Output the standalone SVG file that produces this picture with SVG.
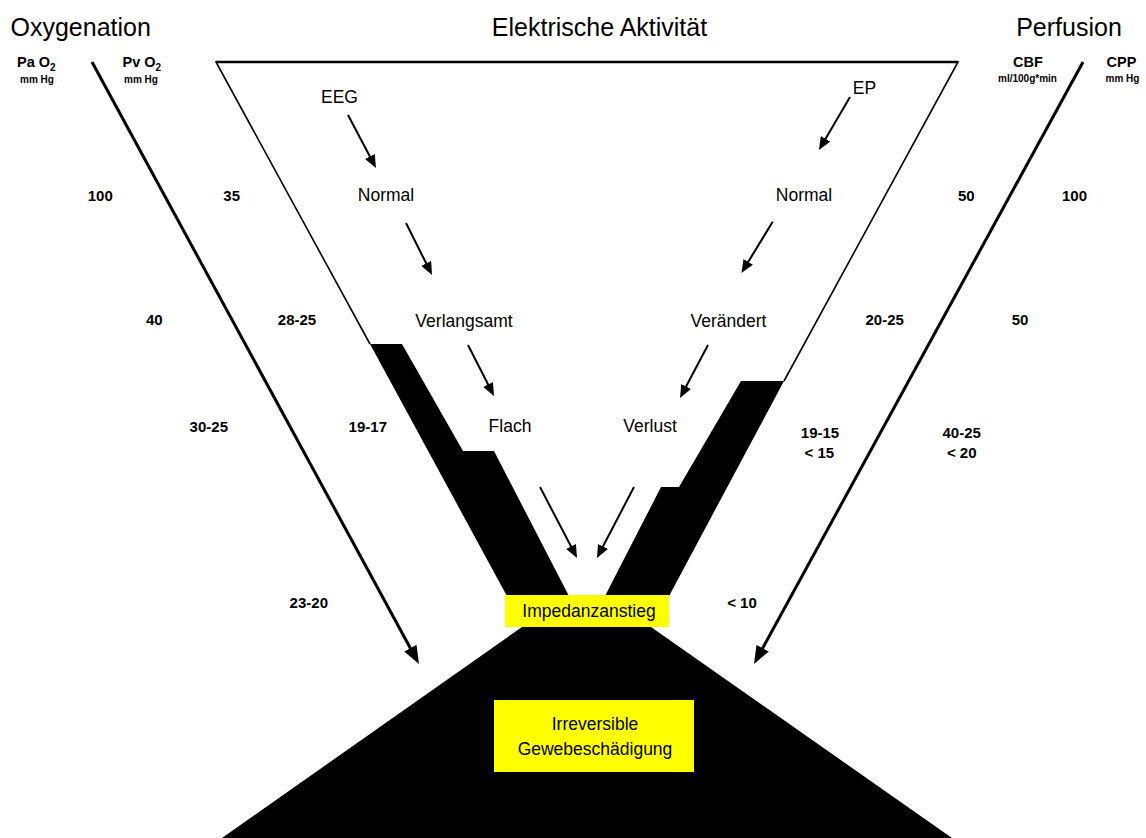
<svg xmlns="http://www.w3.org/2000/svg" width="1146" height="838" viewBox="0 0 1146 838">
<defs>
<style>
text{font-family:"Liberation Sans",Arial,sans-serif;fill:#000}
.title{font-size:25px}
.lbl{font-size:17.5px;text-anchor:middle}
.num{font-size:15px;font-weight:bold;text-anchor:middle}
.hdr{font-size:14.5px;font-weight:bold}
.unit{font-size:10px;font-weight:bold;text-anchor:middle}
.sub{font-size:10px;font-weight:bold}
.box{fill:#ffff00}
.band{fill:#000}
.edge{stroke:#000;fill:none;stroke-width:1.6}
.big{stroke:#000;fill:none;stroke-width:3}
.thin{stroke:#000;fill:none;stroke-width:2}
</style>
<marker id="ahBig" viewBox="0 0 18 14" refX="8" refY="7" markerWidth="18" markerHeight="14" markerUnits="userSpaceOnUse" orient="auto">
<path d="M0,0 L18,7 L0,14 z" fill="#000"/>
</marker>
<marker id="ahSmall" viewBox="0 0 13 11" refX="6" refY="5.5" markerWidth="13" markerHeight="11" markerUnits="userSpaceOnUse" orient="auto">
<path d="M0,0 L13,5.5 L0,11 z" fill="#000"/>
</marker>
</defs>
<rect width="1146" height="838" fill="#fff"/>

<g id="titles">
<text class="title" x="10.5" y="36">Oxygenation</text>
<text class="title" x="599.5" y="36" text-anchor="middle">Elektrische Aktivität</text>
<text class="title" x="1069" y="36" text-anchor="middle">Perfusion</text>
</g>

<g id="headers">
<text class="hdr" x="17" y="67">Pa O<tspan class="sub" dy="4">2</tspan></text>
<text class="unit" x="37" y="83">mm Hg</text>
<text class="hdr" x="122.5" y="67">Pv O<tspan class="sub" dy="4">2</tspan></text>
<text class="unit" x="141" y="83">mm Hg</text>
<text class="hdr" x="1028" y="67" text-anchor="middle">CBF</text>
<text class="unit" x="1027.5" y="82">ml/100g*min</text>
<text class="hdr" x="1121.5" y="67" text-anchor="middle">CPP</text>
<text class="unit" x="1122.5" y="82">mm Hg</text>
</g>

<g id="funnel">
<path class="edge" d="M370,344 L216,62 L958,62 L784,381"/>
<line x1="216" y1="62" x2="958" y2="62" stroke="#000" stroke-width="2.6"/>
<polygon id="band-left" class="band" points="370,344 402,344 463,451 494,451 570,598 508,598"/>
<polygon id="band-right" class="band" points="741,381 784,381 668,598 604,598 661,487 679,487"/>
<polygon id="base" class="band" points="522,627 651,627 952,838 222,838"/>
</g>

<g id="connectors">
<line class="big" x1="92" y1="62" x2="414.2" y2="655.2" marker-end="url(#ahBig)"/>
<line class="big" x1="1083" y1="62" x2="758.8" y2="655.2" marker-end="url(#ahBig)"/>
<line class="thin" x1="348" y1="115" x2="372.7" y2="161.8" marker-end="url(#ahSmall)"/>
<line class="thin" x1="406" y1="223" x2="428.9" y2="268.7" marker-end="url(#ahSmall)"/>
<line class="thin" x1="468" y1="345" x2="490.8" y2="389.8" marker-end="url(#ahSmall)"/>
<line class="thin" x1="540" y1="487" x2="573.8" y2="551.8" marker-end="url(#ahSmall)"/>
<line class="thin" x1="634" y1="487" x2="600.2" y2="551.8" marker-end="url(#ahSmall)"/>
<line class="thin" x1="708" y1="345" x2="683.3" y2="391.8" marker-end="url(#ahSmall)"/>
<line class="thin" x1="772.7" y1="221.7" x2="745.1" y2="267" marker-end="url(#ahSmall)"/>
<line class="thin" x1="850" y1="97" x2="822.5" y2="144" marker-end="url(#ahSmall)"/>
</g>

<g id="eeg"><text class="lbl" x="339.5" y="103">EEG</text></g>
<g id="eeg-normal"><text class="lbl" x="386" y="201">Normal</text></g>
<g id="verlangsamt"><text class="lbl" x="464" y="327">Verlangsamt</text></g>
<g id="flach"><text class="lbl" x="510" y="432">Flach</text></g>
<g id="ep"><text class="lbl" x="864.5" y="94">EP</text></g>
<g id="ep-normal"><text class="lbl" x="804" y="201">Normal</text></g>
<g id="veraendert"><text class="lbl" x="728.5" y="327">Verändert</text></g>
<g id="verlust"><text class="lbl" x="650" y="432">Verlust</text></g>

<g id="impedanz">
<rect class="box" x="505" y="595" width="164" height="32"/>
<text class="lbl" x="589" y="617">Impedanzanstieg</text>
</g>
<g id="irreversibel">
<rect class="box" x="494" y="700" width="200" height="72"/>
<text class="lbl" x="595" y="730">Irreversible</text>
<text class="lbl" x="595" y="755">Gewebeschädigung</text>
</g>

<g id="values">
<text class="num" x="100.3" y="201">100</text>
<text class="num" x="231.7" y="201">35</text>
<text class="num" x="154.3" y="325">40</text>
<text class="num" x="297" y="325">28-25</text>
<text class="num" x="208.8" y="432">30-25</text>
<text class="num" x="367.8" y="432">19-17</text>
<text class="num" x="308.8" y="608">23-20</text>
<text class="num" x="966.3" y="201">50</text>
<text class="num" x="1074.5" y="201">100</text>
<text class="num" x="884.7" y="325">20-25</text>
<text class="num" x="1020" y="325">50</text>
<text class="num" x="820" y="438">19-15</text>
<text class="num" x="819.3" y="458">&lt; 15</text>
<text class="num" x="961.7" y="438">40-25</text>
<text class="num" x="961.7" y="458">&lt; 20</text>
<text class="num" x="742" y="608">&lt; 10</text>
</g>
</svg>
